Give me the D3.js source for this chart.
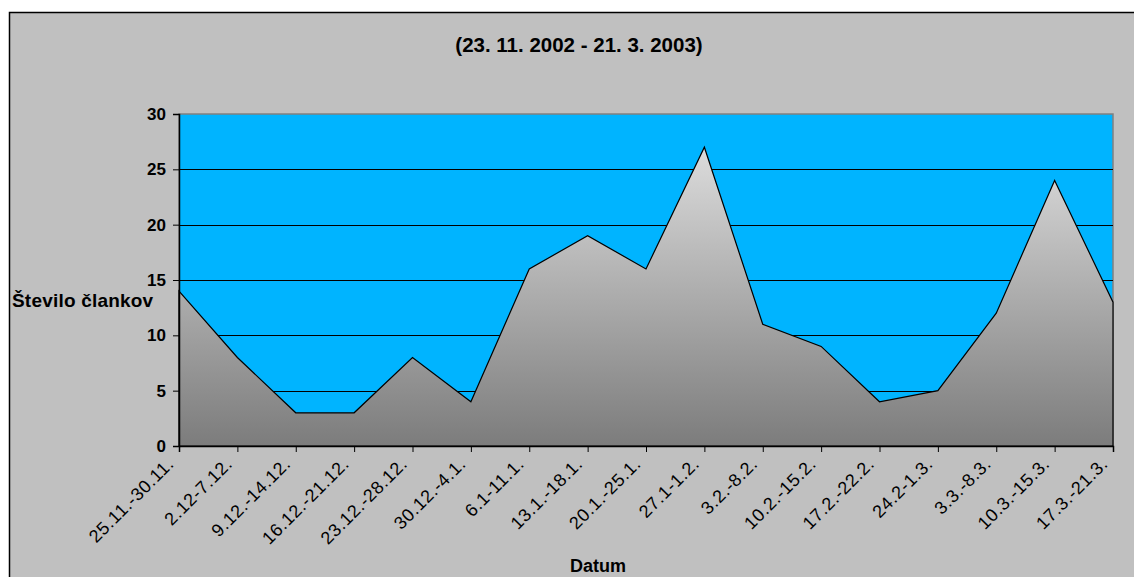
<!DOCTYPE html>
<html>
<head>
<meta charset="utf-8">
<script src="https://cdn.jsdelivr.net/npm/d3@7"></script>
<style>
  html, body { margin: 0; padding: 0; background: #ffffff; }
  svg { display: block; font-family: "Liberation Sans", Arial, sans-serif; }
</style>
</head>
<body>
<svg id="chart" width="1134" height="577"></svg>
<script>
// Weekly article counts
const categories = [
  "25.11.-30.11.", "2.12-7.12.", "9.12.-14.12.", "16.12.-21.12.", "23.12.-28.12.",
  "30.12.-4.1.", "6.1-11.1.", "13.1.-18.1.", "20.1.-25.1.", "27.1-1.2.",
  "3.2.-8.2.", "10.2.-15.2.", "17.2.-22.2.", "24.2-1.3.", "3.3.-8.3.",
  "10.3.-15.3.", "17.3.-21.3."
];
const counts = [14, 8, 3, 3, 8, 4, 16, 19, 16, 27, 11, 9, 4, 5, 12, 24, 13];
const yTicks = [0, 5, 10, 15, 20, 25, 30];
const titleText = "(23. 11. 2002 - 21. 3. 2003)";
const yTitle = "Število člankov";
const xTitle = "Datum";

const svg = d3.select("#chart");
const W = 1134, H = 577;
const plot = { left: 179, right: 1113, top: 114, bottom: 446 };

// chart background with a dark frame on the top and left edges
svg.append("rect").attr("x", 0).attr("y", 0).attr("width", W).attr("height", H).attr("fill", "#ffffff");
svg.append("rect").attr("x", 9.5).attr("y", 12.5).attr("width", W + 10).attr("height", H + 10)
  .attr("fill", "#c0c0c0").attr("stroke", "#000000").attr("stroke-width", 1.5);

const x = d3.scalePoint().domain(categories).range([plot.left, plot.right]);
const y = d3.scaleLinear().domain([0, 30]).range([plot.bottom, plot.top]);

// plot area
svg.append("rect")
  .attr("x", plot.left).attr("y", plot.top)
  .attr("width", plot.right - plot.left).attr("height", plot.bottom - plot.top)
  .attr("fill", "#00b4ff").attr("stroke", "#808080").attr("stroke-width", 1.5);

// horizontal gridlines
svg.append("g").selectAll("line")
  .data(yTicks.filter(d => d > 0 && d < 30))
  .join("line")
  .attr("x1", plot.left).attr("x2", plot.right)
  .attr("y1", d => Math.round(y(d)) + 0.5).attr("y2", d => Math.round(y(d)) + 0.5)
  .attr("stroke", "#000000").attr("stroke-width", 1);

// grey gradient fill for the area
const defs = svg.append("defs");
const grad = defs.append("linearGradient").attr("id", "areaFill")
  .attr("gradientUnits", "userSpaceOnUse")
  .attr("x1", 0).attr("x2", 0).attr("y1", y(27)).attr("y2", y(0));
grad.append("stop").attr("offset", "0%").attr("stop-color", "#dcdcdc");
grad.append("stop").attr("offset", "100%").attr("stop-color", "#7c7c7c");

const area = d3.area()
  .x((d, i) => x(categories[i]))
  .y0(y(0))
  .y1(d => y(d));

svg.append("path")
  .datum(counts)
  .attr("d", area)
  .attr("fill", "url(#areaFill)")
  .attr("stroke", "#000000").attr("stroke-width", 1.2)
  .attr("stroke-linejoin", "miter");

// y axis
const yAxis = svg.append("g")
  .attr("transform", `translate(${plot.left},0)`)
  .call(d3.axisLeft(y).tickValues(yTicks).tickSize(6).tickPadding(7));
yAxis.select(".domain").attr("stroke", "#000000").attr("stroke-width", 1.5);
yAxis.selectAll(".tick line").attr("stroke", "#000000");
yAxis.selectAll(".tick text")
  .attr("font-size", 17).attr("font-weight", "bold")
  .attr("font-family", "'Liberation Sans', Arial, sans-serif")
  .attr("fill", "#000000");

// x axis
const xAxis = svg.append("g")
  .attr("transform", `translate(0,${plot.bottom})`)
  .call(d3.axisBottom(x).tickSize(6).tickFormat(""));
xAxis.select(".domain").attr("stroke", "#000000").attr("stroke-width", 1.5);
xAxis.selectAll(".tick line").attr("stroke", "#000000");

// rotated category labels
svg.append("g").selectAll("text")
  .data(categories)
  .join("text")
  .attr("transform", d => `translate(${x(d) - 4},${plot.bottom + 19}) rotate(-45)`)
  .attr("text-anchor", "end")
  .attr("font-size", 18)
  .attr("letter-spacing", 0.6)
  .attr("fill", "#000000")
  .text(d => d);

// titles
svg.append("text")
  .attr("x", 579).attr("y", 52)
  .attr("text-anchor", "middle")
  .attr("font-size", 20.5).attr("font-weight", "bold")
  .text(titleText);

svg.append("text")
  .attr("x", 12).attr("y", 307)
  .attr("font-size", 19).attr("font-weight", "bold")
  .attr("letter-spacing", 0.2)
  .text(yTitle);

svg.append("text")
  .attr("x", 598).attr("y", 572)
  .attr("text-anchor", "middle")
  .attr("font-size", 18).attr("font-weight", "bold")
  .text(xTitle);
</script>
</body>
</html>
